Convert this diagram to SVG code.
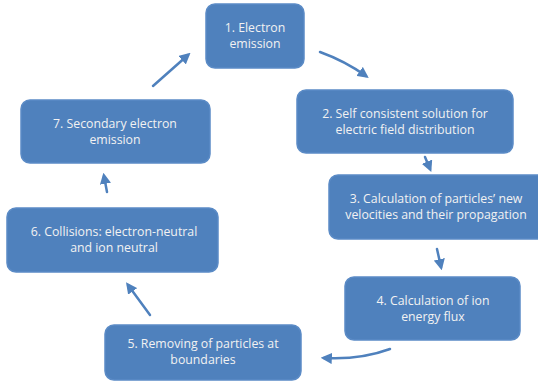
<svg xmlns="http://www.w3.org/2000/svg" width="538" height="383" viewBox="0 0 538 383">
<defs>
<style>
.box{fill:#4F81BD;stroke:#5B8BC6;stroke-width:1.5}
.t{font-family:"Open Sans","Liberation Sans",Arial,sans-serif;font-size:12.3px;fill:#F2F2F2;text-anchor:middle}
.c{fill:none;stroke:#4F81BD;stroke-width:2.5;stroke-linecap:round;marker-end:url(#ah)}
</style>
<marker id="ah" viewBox="0 0 10 10" refX="7" refY="5" markerWidth="4.5" markerHeight="4.5" orient="auto" markerUnits="strokeWidth">
<path d="M0,0 L10,5 L0,10 Z" fill="#4F81BD"/>
</marker>
</defs>
<rect width="538" height="383" fill="#FFFFFF"/>
<g id="connectors">
<path class="c" d="M153,86 L188,55"/>
<path class="c" d="M320,52 Q345,61 366,76"/>
<path class="c" d="M425,157 L430,169"/>
<path class="c" d="M437,249 L441,267"/>
<path class="c" d="M390,349 Q360,360 324,358"/>
<path class="c" d="M150,315 L128,285"/>
<path class="c" d="M107,192 L104,176"/>
</g>
<g id="n1"><rect class="box" x="206" y="4" width="98" height="64" rx="9"/><text class="t" x="255" y="32">1. Electron</text><text class="t" x="255" y="48">emission</text></g>
<g id="n2"><rect class="box" x="297" y="90" width="216" height="63" rx="9"/><text class="t" x="405" y="117.5">2. Self consistent solution for</text><text class="t" x="405" y="133.5">electric field distribution</text></g>
<g id="n3"><rect class="box" x="329" y="175" width="218" height="64" rx="9"/><text class="t" x="436" y="203">3. Calculation of particles’ new</text><text class="t" x="436" y="219">velocities and their propagation</text></g>
<g id="n4"><rect class="box" x="345" y="277" width="175" height="63" rx="9"/><text class="t" x="433" y="304.5">4. Calculation of ion</text><text class="t" x="433" y="320.5">energy flux</text></g>
<g id="n5"><rect class="box" x="105" y="325" width="196" height="55" rx="9"/><text class="t" x="203" y="348">5. Removing of particles at</text><text class="t" x="203" y="364">boundaries</text></g>
<g id="n6"><rect class="box" x="7" y="208" width="211" height="64" rx="9"/><text class="t" x="114" y="236">6. Collisions: electron-neutral</text><text class="t" x="114" y="252">and ion neutral</text></g>
<g id="n7"><rect class="box" x="21" y="100" width="189" height="63" rx="9"/><text class="t" x="115" y="127.5">7. Secondary electron</text><text class="t" x="115" y="143.5">emission</text></g>
</svg>
